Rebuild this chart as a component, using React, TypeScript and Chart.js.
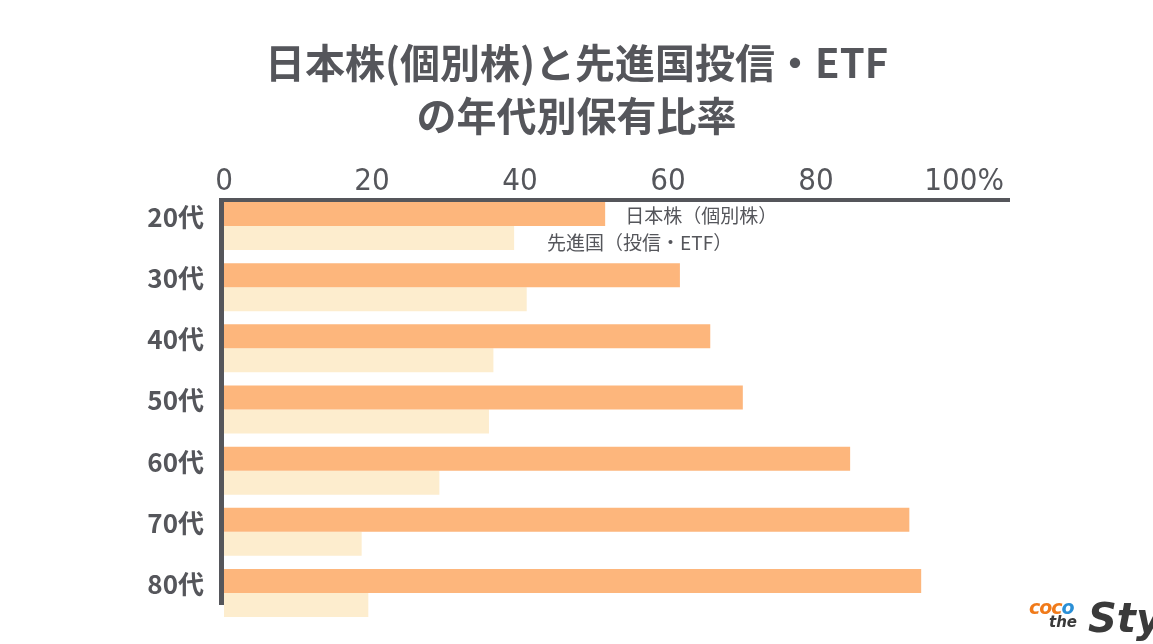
import React, { useEffect, useRef } from 'react';
import { Chart, registerables } from 'chart.js';

Chart.register(...registerables);

const ageGroups = ['20代', '30代', '40代', '50代', '60代', '70代', '80代'];
const japanStocks = [51.5, 61.6, 65.7, 70.1, 84.6, 92.6, 94.2];
const developedFunds = [39.2, 40.9, 36.4, 35.8, 29.1, 18.6, 19.5];
const seriesNames = ['日本株（個別株）', '先進国（投信・ETF）'];
const titleLines = ['日本株(個別株)と先進国投信・ETF', 'の年代別保有比率'];

const INK = '#55565b';
const CJK = "'Noto Sans CJK JP', 'Noto Sans', sans-serif";

// title is drawn across the full canvas width (the chart area is pushed left by the right padding)
const titlePlugin = {
    id: 'centerTitle',
    afterDraw(chart: any) {
        const { ctx } = chart;
        ctx.save();
        ctx.fillStyle = INK;
        ctx.font = `bold 40px ${CJK}`;
        ctx.textAlign = 'center';
        ctx.textBaseline = 'middle';
        ctx.fillText(titleLines[0], chart.width / 2, 63);
        ctx.fillText(titleLines[1], chart.width / 2, 116);
        ctx.restore();
    },
};

const framePlugin = {
    id: 'frame',
    afterDatasetsDraw(chart: any) {
        const { ctx, chartArea } = chart;
        const orange = chart.getDatasetMeta(0).data;
        const light = chart.getDatasetMeta(1).data;
        if (!orange.length || !light.length) return;

        const first = orange[0];
        const topY = first.y - first.height / 2 - 2;
        const bottomY = light[light.length - 1].y;

        ctx.save();
        ctx.strokeStyle = INK;
        ctx.lineWidth = 4;
        ctx.beginPath();
        ctx.moveTo(chartArea.left - 5, topY);
        ctx.lineTo(chartArea.right, topY);
        ctx.stroke();

        ctx.lineWidth = 5;
        ctx.beginPath();
        ctx.moveTo(chartArea.left - 2.5, topY - 2);
        ctx.lineTo(chartArea.left - 2.5, bottomY);
        ctx.stroke();

        // series names written next to the first pair of bars
        ctx.fillStyle = INK;
        ctx.font = `19px ${CJK}`;
        ctx.textAlign = 'left';
        ctx.textBaseline = 'middle';
        ctx.fillText(seriesNames[0], orange[0].x + 20, orange[0].y + 2);
        ctx.fillText(seriesNames[1], light[0].x + 33, light[0].y + 5);
        ctx.restore();
    },
};

const HoldingChart: React.FC = () => {
    const chartRef = useRef<HTMLCanvasElement>(null);
    const chartInstance = useRef<Chart | null>(null);

    useEffect(() => {
        if (!chartRef.current) return;
        const ctx = chartRef.current.getContext('2d');
        if (!ctx) return;

        if (chartInstance.current) {
            chartInstance.current.destroy();
        }

        chartInstance.current = new Chart(ctx, {
            type: 'bar',
            data: {
                labels: ageGroups,
                datasets: [
                    {
                        label: seriesNames[0],
                        data: japanStocks,
                        backgroundColor: '#fdb67c',
                        barPercentage: 1,
                        categoryPercentage: 0.784,
                    },
                    {
                        label: seriesNames[1],
                        data: developedFunds,
                        backgroundColor: '#fdedce',
                        barPercentage: 1,
                        categoryPercentage: 0.784,
                    },
                ],
            },
            options: {
                indexAxis: 'y',
                animation: false,
                responsive: true,
                maintainAspectRatio: false,
                layout: {
                    padding: { left: 0, right: 143, top: 142, bottom: 20.4 },
                },
                scales: {
                    x: {
                        position: 'top',
                        min: 0,
                        max: 106.2,
                        grid: { display: false, drawTicks: false },
                        border: { display: false },
                        ticks: {
                            stepSize: 20,
                            includeBounds: false,
                            padding: -5,
                            color: INK,
                            font: {
                                family: "'Liberation Sans Narrow', 'DejaVu Sans Condensed', 'Roboto', sans-serif",
                                size: 31,
                            },
                            callback: (value: any) => (value === 100 ? '100%' : String(value)),
                        },
                        afterFit: (scale: any) => {
                            scale.height = 53.4;
                            scale.paddingLeft = 0;
                            scale.paddingRight = 0;
                        },
                    },
                    y: {
                        grid: { display: false, drawTicks: false },
                        border: { display: false },
                        ticks: {
                            padding: 20,
                            labelOffset: -9,
                            color: INK,
                            font: { family: CJK, size: 26, weight: 'bold' },
                        },
                        afterFit: (scale: any) => {
                            scale.width = 224;
                            scale.paddingTop = 0;
                            scale.paddingBottom = 0;
                        },
                    },
                },
                plugins: {
                    legend: { display: false },
                    tooltip: { enabled: false },
                    title: { display: false },
                },
            },
            plugins: [framePlugin, titlePlugin],
        });

        return () => {
            if (chartInstance.current) {
                chartInstance.current.destroy();
                chartInstance.current = null;
            }
        };
    }, []);

    return (
        <div style={{ position: 'fixed', left: 0, top: 0, width: '1153px', height: '644px', background: '#fff', overflow: 'hidden' }}>
            <canvas ref={chartRef}></canvas>
            <div style={{ position: 'absolute', left: '1029px', top: '598px', fontFamily: "'DejaVu Sans', sans-serif", fontWeight: 'bold', fontStyle: 'italic', lineHeight: 1 }}>
                <div style={{ fontSize: '19px', color: '#f07a1a', letterSpacing: '-1px' }}>
                    coc<span style={{ color: '#2a8fd6' }}>o</span>
                </div>
                <div style={{ fontSize: '15px', color: '#3a3a3a', marginLeft: '20px', marginTop: '-2px' }}>the</div>
            </div>
            <div style={{ position: 'absolute', left: '1088px', top: '598px', fontFamily: "'DejaVu Sans', sans-serif", fontWeight: 'bold', fontStyle: 'italic', fontSize: '40px', color: '#3a3a3a', lineHeight: 1, whiteSpace: 'nowrap' }}>
                Sty
            </div>
        </div>
    );
};

export default function App() {
    return <HoldingChart />;
}
